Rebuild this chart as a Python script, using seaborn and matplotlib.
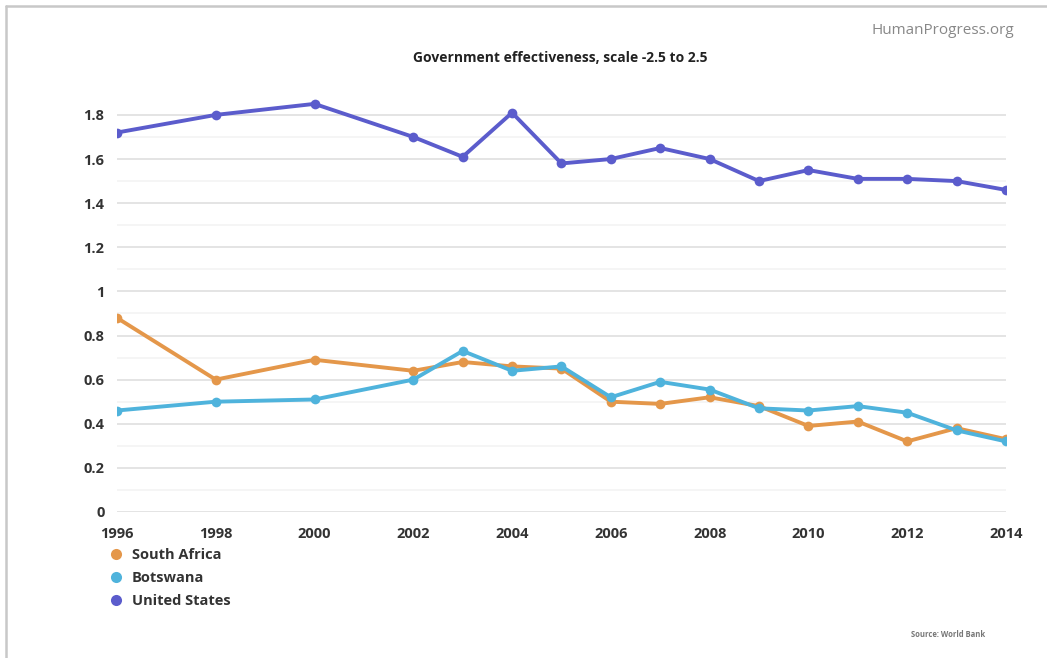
import numpy as np
import pandas as pd
import matplotlib
matplotlib.use("Agg")
import matplotlib.pyplot as plt
from matplotlib.lines import Line2D
import seaborn as sns

years = [1996, 1998, 2000, 2002, 2003, 2004, 2005, 2006, 2007, 2008,
         2009, 2010, 2011, 2012, 2013, 2014]
south_africa = [0.88, 0.60, 0.69, 0.64, 0.68, 0.66, 0.65, 0.50, 0.49, 0.52,
                0.48, 0.39, 0.41, 0.32, 0.38, 0.33]
botswana = [0.46, 0.50, 0.51, 0.60, 0.73, 0.64, 0.66, 0.52, 0.59, 0.555,
            0.47, 0.46, 0.48, 0.45, 0.37, 0.32]
united_states = [1.72, 1.80, 1.85, 1.70, 1.61, 1.81, 1.58, 1.60, 1.65, 1.60,
                 1.50, 1.55, 1.51, 1.51, 1.50, 1.46]
series_names = ["South Africa", "Botswana", "United States"]
series_colors = ["#e4974a", "#4fb3dc", "#5b5ccc"]
x_ticks = [1996, 1998, 2000, 2002, 2004, 2006, 2008, 2010, 2012, 2014]
y_ticks = [0, 0.2, 0.4, 0.6, 0.8, 1, 1.2, 1.4, 1.6, 1.8]
y_tick_labels = ["0", "0.2", "0.4", "0.6", "0.8", "1", "1.2", "1.4", "1.6", "1.8"]

frames = []
for name, vals in zip(series_names, [south_africa, botswana, united_states]):
    frames.append(pd.DataFrame({"year": years, "value": vals, "country": name}))
df = pd.concat(frames, ignore_index=True)

sns.set_theme(style="white")
plt.rcParams["font.family"] = ["Open Sans", "DejaVu Sans"]

fig = plt.figure(figsize=(10.47, 6.58), dpi=100)
ax = fig.add_axes([0.1117, 0.2219, 0.8491, 0.637])

# light minor gridlines every 0.1, stronger major ones every 0.2
for v in np.arange(0.1, 1.85, 0.2):
    ax.axhline(v, color="#f3f3f3", lw=1.2, zorder=0)
for v in y_ticks:
    ax.axhline(v, color="#e4e4e4", lw=1.4, zorder=0)

palette = dict(zip(series_names, series_colors))
sns.lineplot(data=df, x="year", y="value", hue="country", palette=palette,
             hue_order=series_names, linewidth=2.8, marker="o", markersize=7,
             markeredgewidth=0, legend=False, ax=ax, zorder=3)

ax.set_xlim(1996, 2014)
ax.set_ylim(0, 1.9)
ax.set_xticks(x_ticks)
ax.set_xticklabels([str(t) for t in x_ticks], fontsize=10.5, fontweight="bold",
                   color="#333333")
ax.set_yticks(y_ticks)
ax.set_yticklabels(y_tick_labels, fontsize=10.5, fontweight="bold", color="#333333")
ax.tick_params(axis="x", length=0, pad=11)
ax.tick_params(axis="y", length=0, pad=9)
ax.set_xlabel("")
ax.set_ylabel("")
for s in ax.spines.values():
    s.set_visible(False)

# legend below the plot area, dots only
handles = [Line2D([0], [0], marker="o", linestyle="none", markersize=8,
                  markerfacecolor=c, markeredgewidth=0) for c in series_colors]
fig.legend(handles, series_names, loc="upper left", bbox_to_anchor=(0.098, 0.176),
           frameon=False, handletextpad=0.6, labelspacing=0.62, borderaxespad=0,
           prop={"weight": "bold", "size": 10.5}, labelcolor="#333333",
           handlelength=1.0)

fig.text(0.535, 0.912, "Government effectiveness, scale -2.5 to 2.5",
         ha="center", va="center", fontsize=10, fontweight="bold", color="#222222")
fig.text(0.969, 0.953, "HumanProgress.org", ha="right", va="center",
         fontsize=11, color="#888888")
fig.text(0.941, 0.035, "Source: World Bank", ha="right", va="center",
         fontsize=5.5, fontweight="bold", color="#777777")

# thin frame along the top and left edges
fig.add_artist(Line2D([0.006, 1.0], [0.991, 0.991], transform=fig.transFigure,
                      color="#c8c8c8", lw=1.8))
fig.add_artist(Line2D([0.0062, 0.0062], [0.0, 0.991], transform=fig.transFigure,
                      color="#c8c8c8", lw=1.8))

fig.savefig("out.png", dpi=100, facecolor="white")
